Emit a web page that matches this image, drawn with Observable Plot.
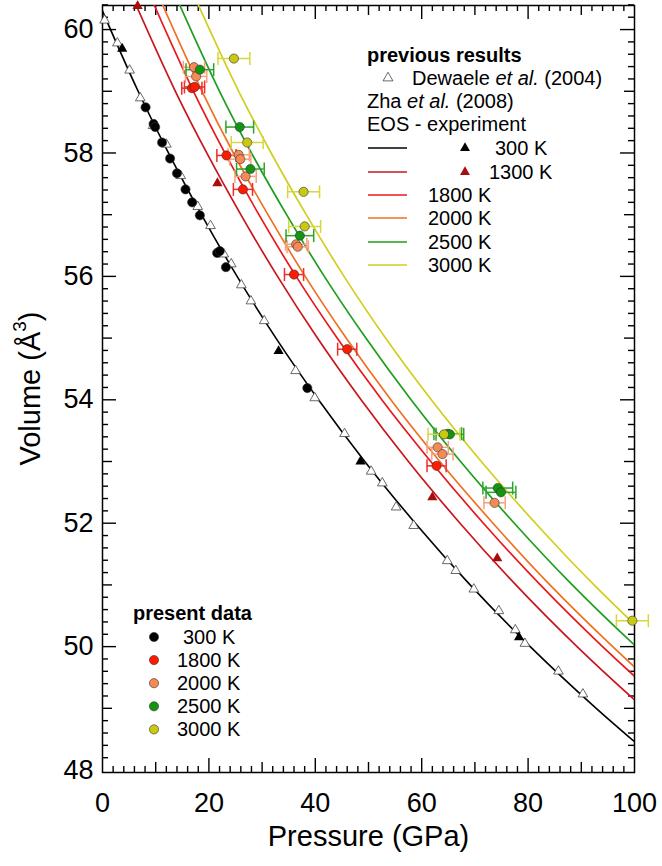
<!DOCTYPE html>
<html><head><meta charset="utf-8">
<script src="https://cdn.jsdelivr.net/npm/d3@7"></script>
<script src="https://cdn.jsdelivr.net/npm/@observablehq/plot@0.6"></script>
<style>body{margin:0;background:#fff} svg{display:block}</style>
</head><body><div id="chart"></div>
<script>
// ---------- data ----------
const xTickLabels = [0, 20, 40, 60, 80, 100];
const yTickLabels = [48, 50, 52, 54, 56, 58, 60];
const xTitle = "Pressure (GPa)";
const yTitle = ["Volume (Å", "3", ")"];

// EOS curves: pressure (GPa) read at these volumes (Å^3)
const curveVolumes = [60.4, 59, 58, 57, 56, 55, 54, 53, 52, 51, 50, 49, 48.4];
const eos300  = [-0.5, 6.7, 12.4, 18.6, 25.3, 32.6, 40.6, 49.3, 58.8, 69.1, 80.4, 92.8, 100.8];
const eos1300 = [6.3, 13.7, 19.6, 26.0, 32.9, 40.4, 48.6, 57.5, 67.2, 77.7, 89.2, 101.8, 109.9];
const eos1800 = [9.7, 17.1, 23.0, 29.4, 36.4, 44.1, 52.5, 61.7, 71.6, 82.3, 94.0, 106.8, 115.0];
const eos2000 = [11.3, 18.7, 24.6, 31.1, 38.1, 45.8, 54.2, 63.4, 73.4, 84.1, 95.9, 108.7, 116.9];
const eos2500 = [14.5, 22.0, 28.0, 34.6, 41.7, 49.5, 58.0, 67.3, 77.4, 88.3, 100.3, 113.3, 121.6];
const eos3000 = [18.0, 25.6, 31.7, 38.3, 45.4, 53.2, 61.8, 71.2, 81.4, 92.4, 104.5, 117.6, 126.0];

// Dewaele et al. (2004) open triangles [P, V]
const dewaele = [[0.4,60.15],[2.8,59.78],[5.1,59.34],[7.1,58.89],[9.5,58.44],[12.0,58.14],[14.7,57.63],
  [17.9,57.13],[20.3,56.82],[22.8,56.36],[24.2,56.2],[26.1,55.86],[27.9,55.6],[30.4,55.28],[36.3,54.47],
  [39.9,54.03],[45.5,53.45],[50.5,52.84],[52.6,52.65],[55.2,52.26],[58.5,51.96],[64.8,51.39],[66.4,51.23],
  [69.8,50.93],[74.5,50.58],[77.6,50.27],[79.4,50.05],[85.7,49.6],[90.3,49.23]];
// Zha et al. (2008)
const zha300 = [[3.7,59.69],[33.1,54.79],[48.5,53.0],[78.3,50.15]];
const zha1300 = [[6.6,60.38],[21.6,57.51],[62.0,52.42],[74.2,51.43]];

// present data [P, V, error in P]
const present300 = [[8.1,58.74],[9.6,58.47],[9.9,58.42],[11.2,58.17],[12.7,57.91],[14.0,57.67],[15.6,57.41],
  [16.85,57.2],[18.3,56.99],[21.55,56.38],[22.05,56.41],[23.2,56.15],[38.5,54.19]];
const present1800 = [[16.8,59.05,1.9],[17.3,59.07,1.9],[23.3,57.96,1.8],[26.4,57.41,1.8],[36.0,56.03,1.8],
  [46.0,54.82,1.8],[62.8,52.93,1.8]];
const present2000 = [[17.2,59.39,2.0],[17.6,59.24,2.0],[25.6,57.97,2.0],[25.9,57.9,2.0],[26.9,57.62,2.0],
  [36.4,56.52,2.0],[36.7,56.48,2.0],[63.0,53.23,2.0],[63.9,53.12,2.0],[73.7,52.33,2.0]];
const present2500 = [[18.3,59.35,2.6],[25.8,58.42,2.6],[27.8,57.74,2.6],[37.1,56.66,2.6],[64.9,53.45,2.6],
  [65.3,53.44,2.6],[74.3,52.57,2.8],[74.9,52.5,2.8]];
const present3000 = [[24.7,59.53,3.0],[27.2,58.17,3.0],[37.8,57.37,3.0],[38.0,56.81,3.0],[64.2,53.44,3.0],
  [99.6,50.42,3.0]];

// legend texts
const prevTitle = "previous results";
const presTitle = "present data";
const tempLabels = ["300 K", "1300 K", "1800 K", "2000 K", "2500 K", "3000 K"];

// ---------- styles ----------
const font = "'Liberation Sans', Arial, Helvetica, sans-serif";
const C = {
  l300: "#000000", l1300: "#c8161c", l1800: "#e8191c", l2000: "#f07020", l2500: "#1e9e1e", l3000: "#cfcf1e",
  f1800: "#ff1a00", f2000: "#f58a55", f2500: "#129612", f3000: "#c9c912",
  e1800: "#f02c2c", e2000: "#f8a07c", e2500: "#2aa52a", e3000: "#d6d640",
  t1300: "#a80c0c"
};

const W = 662, H = 866, mL = 102, mR = 28, mT = 5, mB = 94;
const iw = W - mL - mR, ih = H - mT - mB;

const toCurve = arr => arr.map((P, i) => ({P, V: curveVolumes[i]}));
const toPts = arr => arr.map(d => ({P: d[0], V: d[1], e: d[2]}));

const cap = {draw(ctx, size) { const r = Math.sqrt(size / Math.PI); ctx.moveTo(0, -r); ctx.lineTo(0, r); }};

function errMarks(arr, col) {
  const d = toPts(arr);
  return [
    Plot.ruleY(d, {y: "V", x1: p => p.P - p.e, x2: p => p.P + p.e, stroke: col, strokeWidth: 1.5}),
    Plot.dot(d, {x: p => p.P - p.e, y: "V", symbol: cap, r: 6.5, stroke: col, strokeWidth: 1.5, fill: "none"}),
    Plot.dot(d, {x: p => p.P + p.e, y: "V", symbol: cap, r: 6.5, stroke: col, strokeWidth: 1.5, fill: "none"})
  ];
}
const circles = (arr, col) => Plot.dot(toPts(arr), {x: "P", y: "V", r: 4.6, fill: col, stroke: "#333", strokeWidth: 0.6});
const line = (arr, col, w = 1.7) => Plot.line(toCurve(arr), {x: "P", y: "V", stroke: col, strokeWidth: w, curve: "monotone-x", clip: true});

const xMinor = d3.range(0, 101, 2).filter(v => v % 10 !== 0);
const xMid = [10, 30, 50, 70, 90];
const xMajor = [20, 40, 60, 80];
const yMinor = d3.range(48, 60.41, 0.2).map(v => +v.toFixed(1)).filter(v => Math.abs(v - Math.round(v)) > 0.01);
const yMid = [49, 51, 53, 55, 57, 59];
const yMajor = [50, 52, 54, 56, 58, 60];

const tickMarks = [];
for (const [vals, len] of [[xMinor, 6], [xMid, 10], [xMajor, 14]]) {
  tickMarks.push(Plot.tickX(vals, {x: d => d, insetTop: ih - len, stroke: "black", strokeWidth: 1.4}));
  tickMarks.push(Plot.tickX(vals, {x: d => d, insetBottom: ih - len, stroke: "black", strokeWidth: 1.4}));
}
for (const [vals, len] of [[yMinor, 6], [yMid, 10], [yMajor, 14]]) {
  tickMarks.push(Plot.tickY(vals, {y: d => d, insetRight: iw - len, stroke: "black", strokeWidth: 1.4}));
  tickMarks.push(Plot.tickY(vals, {y: d => d, insetLeft: iw - len, stroke: "black", strokeWidth: 1.4}));
}

const chart = Plot.plot({
  width: W, height: H, marginLeft: mL, marginRight: mR, marginTop: mT, marginBottom: mB,
  style: {fontFamily: font, background: "white", color: "black", overflow: "visible"},
  x: {domain: [0, 100]},
  y: {domain: [47.96, 60.39]},
  marks: [
    Plot.axisX(xTickLabels, {tickSize: 0, tickPadding: 20, fontSize: 27, label: null, tickFormat: d3.format("d")}),
    Plot.axisY(yTickLabels, {tickSize: 0, tickPadding: 9, fontSize: 27, label: null, tickFormat: d3.format("d")}),
    ...tickMarks,
    Plot.frame({stroke: "black", strokeWidth: 1.5}),
    line(eos300, C.l300, 1.6),
    line(eos1300, C.l1300),
    line(eos1800, C.l1800),
    line(eos2000, C.l2000),
    line(eos2500, C.l2500),
    line(eos3000, C.l3000),
    ...errMarks(present1800, C.e1800),
    ...errMarks(present2000, C.e2000),
    ...errMarks(present2500, C.e2500),
    ...errMarks(present3000, C.e3000),
    Plot.dot(toPts(dewaele), {x: "P", y: "V", symbol: "triangle", r: 3.6, fill: "white", stroke: "#444", strokeWidth: 0.8}),
    Plot.dot(toPts(zha300), {x: "P", y: "V", symbol: "triangle", r: 3.8, fill: "black"}),
    Plot.dot(toPts(zha1300), {x: "P", y: "V", symbol: "triangle", r: 3.8, fill: C.t1300}),
    circles(present300, "black"),
    circles(present1800, C.f1800),
    circles(present2000, C.f2000),
    circles(present2500, C.f2500),
    circles(present3000, C.f3000),
    Plot.text([xTitle], {frameAnchor: "bottom", dy: 73, fontSize: 29, fill: "black"})
  ]
});
document.getElementById("chart").appendChild(chart);

// ---------- titles & legends ----------
const svg = d3.select(chart);
const yt = svg.append("text").attr("font-family", font).attr("font-size", 29)
  .attr("text-anchor", "middle").attr("transform", `translate(40,${mT + ih / 2}) rotate(-90)`);
yt.append("tspan").text(yTitle[0]);
yt.append("tspan").attr("dy", "-0.75em").attr("font-size", 19).text(yTitle[1]);
yt.append("tspan").attr("dy", "0.48em").text(yTitle[2]);

const lg = svg.append("g").attr("font-family", font).attr("font-size", 20).attr("fill", "black").attr("text-anchor", "start");
function label(x, y, parts, weight) {
  const t = lg.append("text").attr("x", x).attr("y", y + 7).attr("font-weight", weight || "normal").attr("text-anchor", "start");
  for (const [s, it] of parts) t.append("tspan").attr("font-style", it ? "italic" : "normal").text(s);
}
const sym = (type, r) => d3.symbol(type, Math.PI * r * r)();
function tri(x, y, fill, stroke) {
  lg.append("path").attr("d", sym(d3.symbolTriangle, 3.7)).attr("transform", `translate(${x},${y})`)
    .attr("fill", fill).attr("stroke", stroke || "none").attr("stroke-width", 0.8);
}
function seg(y, col) {
  lg.append("line").attr("x1", 368).attr("x2", 407).attr("y1", y).attr("y2", y).attr("stroke", col).attr("stroke-width", 1.7);
}
function dotL(x, y, col) {
  lg.append("circle").attr("cx", x).attr("cy", y).attr("r", 4.6).attr("fill", col).attr("stroke", "#333").attr("stroke-width", 0.6);
}
// previous results
label(367, 55, [[prevTitle]], "bold");
tri(388, 78, "white", "#444");
label(412, 78, [["Dewaele "], ["et al.", true], [" (2004)"]]);
label(367, 101, [["Zha "], ["et al.", true], [" (2008)"]]);
label(367, 124, [["EOS - experiment"]]);
const lineCols = [C.l300, C.l1300, C.l1800, C.l2000, C.l2500, C.l3000];
const ly = [148, 172, 195, 218, 242, 265];
lineCols.forEach((c, i) => seg(ly[i], c));
tri(465, 148, "black"); label(495, 148, [[tempLabels[0]]]);
tri(465, 172, C.t1300); label(489, 172, [[tempLabels[1]]]);
for (let i = 2; i < 6; i++) label(428, ly[i], [[tempLabels[i]]]);
// present data
label(133, 613, [[presTitle]], "bold");
const pCols = ["black", C.f1800, C.f2000, C.f2500, C.f3000];
const pLabels = [tempLabels[0], tempLabels[2], tempLabels[3], tempLabels[4], tempLabels[5]];
pCols.forEach((c, i) => { const y = 637 + i * 23.1; dotL(154, y, c); label(i === 0 ? 183 : 177, y, [[pLabels[i]]]); });
</script>
</body></html>
